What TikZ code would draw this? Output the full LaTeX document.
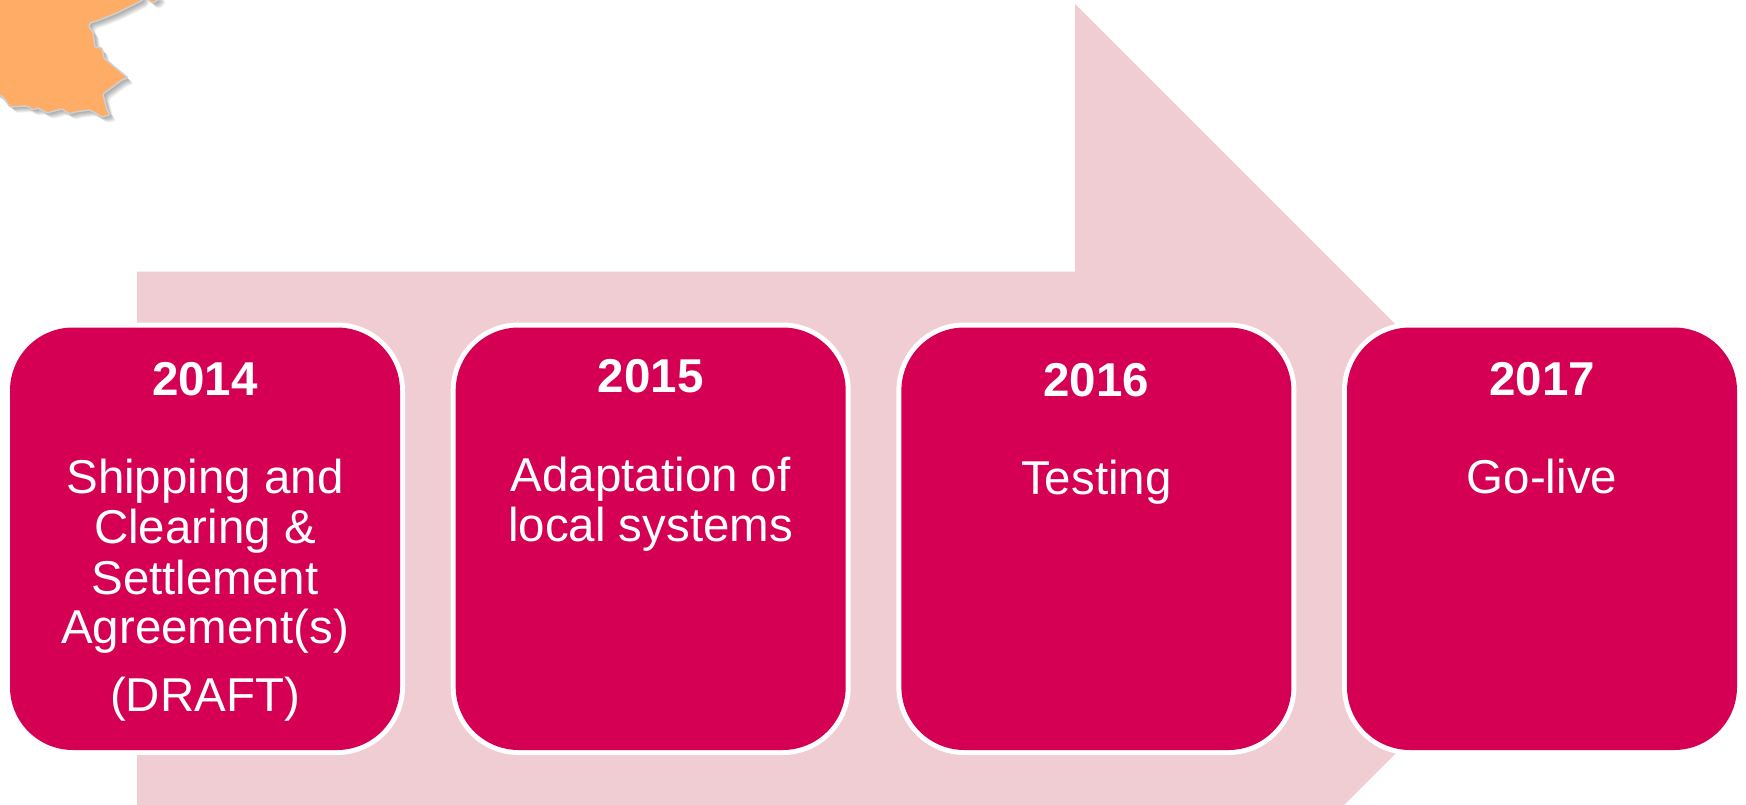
\documentclass[tikz,border=0pt]{standalone}
\usepackage{fontspec}
\setmainfont{Liberation Sans}
\definecolor{arrowpink}{HTML}{F0CCD3}
\definecolor{boxred}{HTML}{D50053}
\definecolor{mapfill}{HTML}{FFAD66}
\definecolor{mapline}{HTML}{D0D0D0}
\tikzset{
  stagebox/.style={preaction={draw=white,line width=10pt},fill=boxred,rounded corners=63pt,minimum width=390pt,minimum height=422.5pt,inner sep=0pt,outer sep=0pt},
  stagetext/.style={text=white,inner sep=0pt,outer sep=0pt,anchor=base,align=center,font=\fontsize{47.5}{50}\selectfont},
  yeartext/.style={stagetext,font=\fontsize{47.5}{50}\selectfont\bfseries},
  mapshape/.style={fill=mapfill,draw=mapline,line width=1.5pt,line join=round,rounded corners=1pt}
}
\def\mappath{(143,0) -- (117,13) -- (97,21) -- (90,23) -- (89,27) -- (93,32) -- (95,47) -- (102,48) -- (104,58) -- (128,78) -- (122,80) -- (103,94) -- (107,110) -- (110,115) -- (102,117) -- (90,110) -- (75,112) -- (70,114) -- (62,109) -- (47,113) -- (38,108) -- (33,110) -- (27,106) -- (10,107) -- (3,97) -- (-10,90) -- (-10,-10) -- (143,-10) -- cycle (147,-5) -- (149,1) -- (153,3) -- (158,0) -- (160,-5) -- cycle}
\begin{document}
\begin{tikzpicture}[x=1pt,y=-1pt]
\useasboundingbox (0,0) rectangle (1746,804);
\clip (0,0) rectangle (1746,804);
\fill[arrowpink] (137,271.5) -- (1075,271.5) -- (1075,4) -- (1610,539) -- (1075,1074) -- (1075,806.5) -- (137,806.5) -- cycle;
\foreach \d in {1,1.5,...,6}{
  \fill[black,opacity=0.035,rounded corners=2pt,shift={(\d,\d)}] \mappath;
}
\path[mapshape] \mappath;
\node[stagebox] (b14) at (205,538.75) {};
\node[stagebox] (b15) at (650.7,538.75) {};
\node[stagebox] (b16) at (1096.4,538.75) {};
\node[stagebox] (b17) at (1542,538.75) {};
\node[yeartext] (y14) at (205,395.5) {2014};
\node[stagetext] (t14a) at (205,493) {Shipping and};
\node[stagetext] (t14b) at (205,543.5) {Clearing \&};
\node[stagetext] (t14c) at (205,594) {Settlement};
\node[stagetext] (t14d) at (205,643.5) {Agreement(s)};
\node[stagetext] (t14e) at (205,711) {(DRAFT)};
\node[yeartext] (y15) at (650.7,392.7) {2015};
\node[stagetext] (t15a) at (650.7,491.7) {Adaptation of};
\node[stagetext] (t15b) at (650.7,541.7) {local systems};
\node[yeartext] (y16) at (1096.4,396) {2016};
\node[stagetext] (t16) at (1096.4,494) {Testing};
\node[yeartext] (y17) at (1542,395.5) {2017};
\node[stagetext] (t17) at (1542,493.5) {Go-live};
\end{tikzpicture}
\end{document}
